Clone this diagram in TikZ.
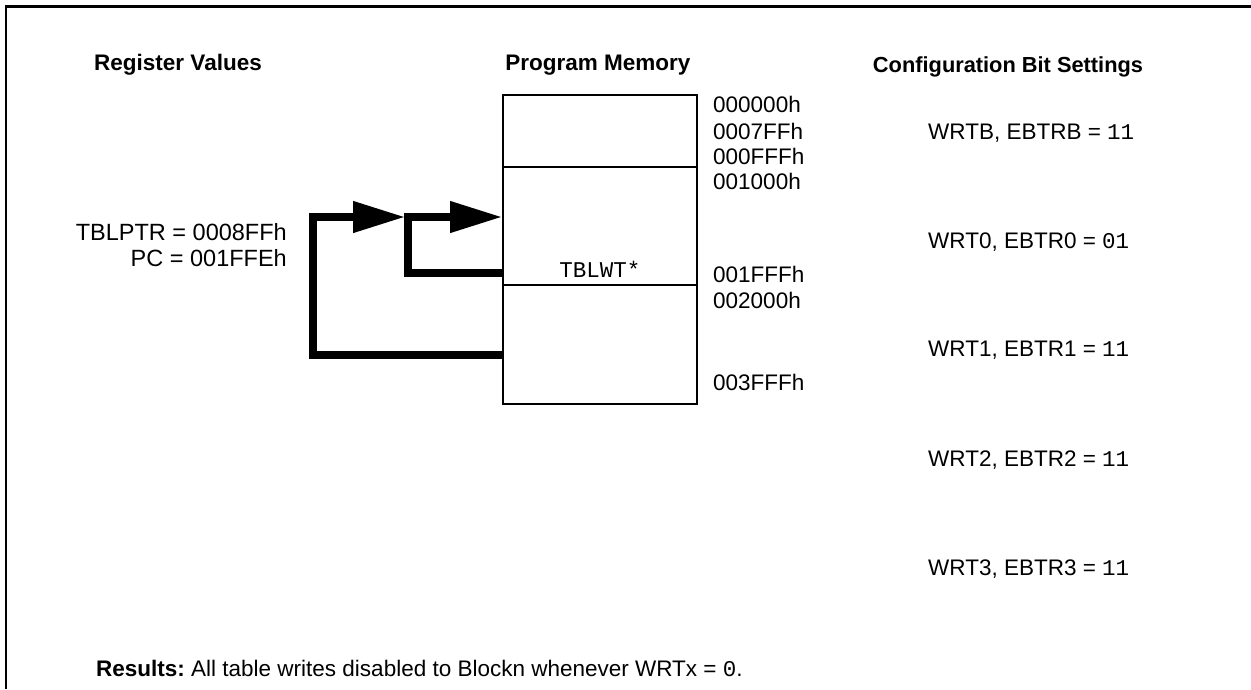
\documentclass[tikz,border=0pt]{standalone}
\usepackage{fontspec}
\setmainfont{Liberation Sans}
\setmonofont{Liberation Mono}
\usetikzlibrary{arrows.meta}
\frenchspacing
\begin{document}
\begin{tikzpicture}[x=1pt,y=-1pt,
  lbl/.style={font=\fontsize{22.5}{27}\selectfont, inner sep=0pt},
  reg/.style={inner sep=0pt, font=\fontsize{23.5}{28}\selectfont},
  head/.style={inner sep=0pt, font=\fontsize{22.5}{27}\selectfont\bfseries},
  blk/.style={draw, line width=2pt, minimum width=194pt, inner sep=0pt},
  flow/.style={line width=7.5pt, line join=miter, -{Triangle[length=52pt,width=30pt]}},
  ]
\useasboundingbox (0,0) rectangle (1251,689);
\draw[line width=2.5pt] (6,689) -- (6,6.5) -- (1251,6.5);

% headings
\node[head, anchor=base] (hreg) at (178,70) {Register Values};
\node[head, anchor=base] (hmem) at (598,70) {Program Memory};
\node[head, anchor=base, font=\fontsize{21.8}{26}\selectfont\bfseries] (hcfg) at (1008,72) {Configuration Bit Settings};

% memory blocks
\node[blk, minimum height=72pt] (blk0) at (600,131) {};
\node[blk, minimum height=118pt] (blk1) at (600,226) {};
\node[blk, minimum height=119pt] (blk2) at (600,344.5) {};
\node[lbl, anchor=base, font=\fontsize{22.5}{27}\selectfont\ttfamily] (tblwt) at (600,277) {TBLWT*};

% addresses
\node[lbl, anchor=base west] (a0) at (713,112) {000000h};
\node[lbl, anchor=base west] (a1) at (713,139.5) {0007FFh};
\node[lbl, anchor=base west] (a2) at (713,164) {000FFFh};
\node[lbl, anchor=base west] (a3) at (713,189.5) {001000h};
\node[lbl, anchor=base west] (a4) at (713,282) {001FFFh};
\node[lbl, anchor=base west] (a5) at (713,308) {002000h};
\node[lbl, anchor=base west] (a6) at (713,390) {003FFFh};

% register values
\node[reg, anchor=base east] (tblptr) at (287,240) {TBLPTR = 0008FFh};
\node[reg, anchor=base east] (pc) at (287,266) {PC = 001FFEh};

% configuration bits
\node[lbl, anchor=base west] (c0) at (928,139) {WRTB, EBTRB = \texttt{11}};
\node[lbl, anchor=base west] (c1) at (928,248) {WRT0, EBTR0 = \texttt{01}};
\node[lbl, anchor=base west] (c2) at (928,356) {WRT1, EBTR1 = \texttt{11}};
\node[lbl, anchor=base west] (c3) at (928,466) {WRT2, EBTR2 = \texttt{11}};
\node[lbl, anchor=base west] (c4) at (928,575) {WRT3, EBTR3 = \texttt{11}};

% results
\node[lbl, anchor=base west] (res) at (96,676) {\textbf{Results:} All table writes disabled to Blockn whenever WRTx = \texttt{0}.};

% flow arrows
\coordinate (outerL) at (313,217);
\coordinate (innerL) at (408,217);
\draw[flow] (blk2.west |- 0,355) -| (outerL) -- ([xshift=-3pt]innerL);
\draw[flow] (blk1.west |- 0,273) -| (innerL) -- (blk1.west |- innerL);
\end{tikzpicture}
\end{document}
